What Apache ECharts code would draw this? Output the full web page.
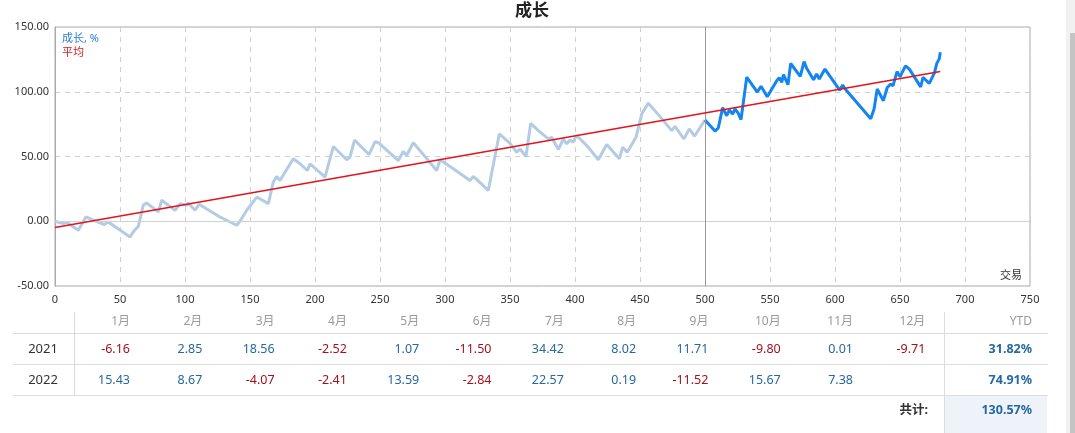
<!DOCTYPE html>
<html>
<head>
<meta charset="utf-8">
<script src="https://cdn.jsdelivr.net/npm/echarts@6/dist/echarts.min.js"></script>
<style>
html,body{margin:0;padding:0;background:#fff;}
#chart{width:1075px;height:433px;}
</style>
</head>
<body>
<div id="chart"></div>
<script>
// ---- data ----
var tradeNo = [0,6.4,9,17.9,23.8,29.5,37.9,41,57.7,60.2,64.1,67.9,70.5,79.5,82.1,92.3,96.2,101.3,102.5,107.7,110.8,126.9,139.8,142.3,143.6,147.5,155.2,164.1,167.9,170.5,173.1,176.9,183.3,188.5,194.1,196.2,207.7,214.1,224.4,226.9,230.4,239.8,241.5,246.2,249.2,264.1,267.9,270.5,275.6,285,293.6,296.2,306.4,319.2,321.8,333.3,341.8,350,355.2,357.7,362.3,365.9,371.8,379.5,382.1,387.2,391,393.6,396.2,398.2,401.3,410.2,417.9,424.4,434.1,436.7,440.2,446.9,451.3,456.4,465.4,474.4,476.9,483.8,487.9,492,500,507.7,510.2,513.6,516.7,518.7,521.3,523.1,525.6,527.7,532.1,540.2,543.1,547.9,555.4,557.2,559,560.4,563.8,565.9,573.3,576.2,578.2,583.5,585.9,587.9,592.3,603.6,605.9,607.7,627.5,630,632.5,637.2,640.2,642.8,644.6,647.7,650,654.2,657.2,665.9,667.7,672.5,676.5,678.3,680.2,681];
var growth = [0,-1.8,-0.8,-6.9,3.3,0.8,-2.5,-0.5,-12.1,-8.2,-3.8,12.3,14.1,7.2,16.2,8.5,13.6,12.3,14.1,8.5,13.1,3.3,-3.1,0,-1.5,8.5,18.7,13.6,30.2,34.6,31.5,37.9,48.2,44.4,39.2,44.4,34.1,57.7,47.5,49.5,62.7,53.3,51.5,61.5,60.4,46.9,53.8,50.8,60.6,49.5,39.2,47.5,40.5,31.5,34.6,23.8,67.5,60.2,53.3,55.9,50,75.6,70,63.6,64.8,55.4,63.6,59.8,62.8,61,66.2,57.2,47.5,59.2,48.2,57.2,53.3,64.8,82.8,91.2,80.8,70,73.3,63.6,71.3,65.8,78.2,69.6,72,87.7,81.5,85.9,82.8,86.7,83.3,78.5,111.3,99.8,104.2,96.2,108.8,110.8,107.2,113.2,105.4,121.8,111.9,123.3,118.2,109.2,113.8,109.8,117.5,101.2,105.2,102.3,79.2,86.5,102.1,93.1,103.3,105.9,104.6,115.6,111.5,120,117.5,103.8,111.2,106.4,114.6,121.9,125.4,130.57];
var splitTrade = 500;
var avgTrades = [0, 681];
var avgValues = [-4.9, 115.6];

var xTicks = {min:0, max:750, step:50};
var yTicks = {min:-50, max:150, step:50};

var monthLabels = ['1月','2月','3月','4月','5月','6月','7月','8月','9月','10月','11月','12月'];
var years = ['2021','2022'];
var returns2021 = [-6.16,2.85,18.56,-2.52,1.07,-11.50,34.42,8.02,11.71,-9.80,0.01,-9.71];
var returns2022 = [15.43,8.67,-4.07,-2.41,13.59,-2.84,22.57,0.19,-11.52,15.67,7.38,null];
var ytd = [31.82, 74.91];
var totalGrowth = 130.57;

// ---- build ----
var FONT = '"Noto Sans", "Noto Sans CJK SC", sans-serif';
var earlyPts = [], latePts = [];
for (var i = 0; i < tradeNo.length; i++) {
  if (tradeNo[i] <= splitTrade) earlyPts.push([tradeNo[i], growth[i]]);
  if (tradeNo[i] >= splitTrade) latePts.push([tradeNo[i], growth[i]]);
}
var avgPts = avgTrades.map(function(t, i){ return [t, avgValues[i]]; });

var POS = '#2668a0', NEG = '#a3111f';
var g = [];
// table lines
function hline(y, x1, x2){ g.push({type:'line', silent:true, shape:{x1:x1,y1:y,x2:x2,y2:y}, style:{stroke:'#dcdcdc', lineWidth:1}}); }
function vline(x, y1, y2){ g.push({type:'line', silent:true, shape:{x1:x,y1:y1,x2:x,y2:y2}, style:{stroke:'#dcdcdc', lineWidth:1}}); }
g.push({type:'rect', silent:true, shape:{x:945, y:396, width:102, height:37}, style:{fill:'#eef3fa'}});
hline(333.5, 13, 1048);
hline(364.5, 13, 1048);
hline(395.5, 13, 1048);
vline(74.5, 312, 395);
vline(944.5, 312, 433);

function txt(x, y, s, color, align, size, bold){
  g.push({type:'text', silent:true, x:x, y:y, style:{text:s, fill:color, align:align, verticalAlign:'middle', font:(bold?'bold ':'')+size+'px '+FONT}});
}
var colRight = function(i){ return 130 + i*72.3; };
var rowY = [349, 380];
monthLabels.forEach(function(m, i){ txt(colRight(i), 322, m, '#9a9a9a', 'right', 12, false); });
txt(1032, 322, 'YTD', '#9a9a9a', 'right', 12, false);
[returns2021, returns2022].forEach(function(arr, r){
  txt(43, rowY[r], years[r], '#333', 'center', 13, false);
  arr.forEach(function(v, i){
    if (v === null) return;
    txt(colRight(i), rowY[r], v.toFixed(2), v < 0 ? NEG : POS, 'right', 12.5, false);
  });
  txt(1032, rowY[r], ytd[r].toFixed(2) + '%', POS, 'right', 12.5, true);
});
txt(928, 410, '共计:', '#333', 'right', 12.5, true);
txt(1032, 410, totalGrowth.toFixed(2) + '%', POS, 'right', 12.5, true);

// chart annotations
txt(532, 11, '成长', '#222', 'center', 17, true);
txt(62, 39, '成长, %', '#2a7fd4', 'left', 11, false);
txt(62, 53, '平均', '#d42020', 'left', 11, false);
txt(1022, 276, '交易', '#333', 'right', 11, false);
// scrollbar
g.push({type:'rect', silent:true, shape:{x:1066, y:0, width:9, height:433}, style:{fill:'#f1f1f1'}});
g.push({type:'rect', silent:true, shape:{x:1070, y:33, width:5, height:400}, style:{fill:'#c4c4c4'}});

var chart = echarts.init(document.getElementById('chart'), null, {renderer:'canvas'});
chart.setOption({
  animation:false,
  backgroundColor:'#fff',
  grid:{left:55, top:27, width:975, height:259, show:true, borderColor:'#aaa', borderWidth:1, backgroundColor:'transparent'},
  xAxis:{type:'value', min:xTicks.min, max:xTicks.max, interval:xTicks.step,
    axisLine:{show:true, lineStyle:{color:'#aaa'}}, axisTick:{show:false},
    axisLabel:{color:'#333', fontSize:11, fontFamily:FONT, margin:8},
    splitLine:{show:true, lineStyle:{color:'#d0d0d0', type:[5,5]}}},
  yAxis:{type:'value', min:yTicks.min, max:yTicks.max, interval:yTicks.step,
    axisLine:{show:true, lineStyle:{color:'#aaa'}}, axisTick:{show:false},
    axisLabel:{color:'#333', fontSize:11, fontFamily:FONT, margin:6, formatter:function(v){return v.toFixed(2);}},
    splitLine:{show:true, lineStyle:{color:'#d0d0d0', type:[5,5]}}},
  series:[
    {type:'line', data:earlyPts, symbol:'none', lineStyle:{color:'#b3cbe3', width:3}, z:3,
      markLine:{silent:true, symbol:'none', label:{show:false}, animation:false,
        data:[{yAxis:0, lineStyle:{color:'#d2d2d2', type:'solid', width:1}},
              {xAxis:splitTrade, lineStyle:{color:'#9a9a9a', type:'solid', width:1}}]}},
    {type:'line', data:latePts, symbol:'none', lineStyle:{color:'#1384f0', width:3}, z:4},
    {type:'line', data:avgPts, symbol:'none', lineStyle:{color:'#e3131b', width:1.5}, z:5}
  ],
  graphic:g
});
</script>
</body>
</html>
